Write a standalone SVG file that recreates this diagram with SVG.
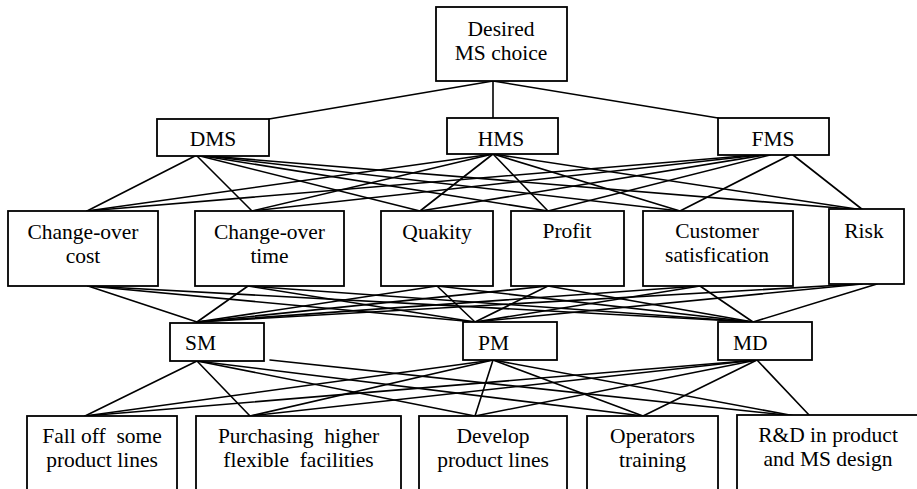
<svg xmlns="http://www.w3.org/2000/svg" width="917" height="489" viewBox="0 0 917 489">
  <style>
    .box { fill: #ffffff; stroke: #000000; stroke-width: 1.8; }
    .edges line { stroke: #000000; stroke-width: 1.6; stroke-linecap: round; }
    .labels text { font-size: 21.5px; fill: #000000; text-anchor: middle; white-space: pre; }
    .labels text.left { text-anchor: start; }
  </style>
  <rect x="0" y="0" width="917" height="489" fill="#ffffff"/>

  <g id="connectors" class="edges">
    <!-- goal to alternatives -->
    <line x1="493" y1="81" x2="269" y2="119"/>
    <line x1="493" y1="81" x2="493" y2="118"/>
    <line x1="493" y1="81" x2="718" y2="118"/>

    <!-- DMS to criteria -->
    <line x1="195" y1="156" x2="87" y2="211"/>
    <line x1="197" y1="156" x2="252" y2="211"/>
    <line x1="200" y1="156" x2="420" y2="211"/>
    <line x1="203" y1="156" x2="548" y2="211"/>
    <line x1="206" y1="156" x2="680" y2="211"/>
    <line x1="209" y1="156" x2="863" y2="210"/>
    <!-- HMS to criteria -->
    <line x1="493" y1="154" x2="87" y2="211"/>
    <line x1="493" y1="154" x2="252" y2="211"/>
    <line x1="493" y1="154" x2="420" y2="211"/>
    <line x1="493" y1="154" x2="548" y2="211"/>
    <line x1="493" y1="154" x2="680" y2="211"/>
    <line x1="493" y1="154" x2="863" y2="210"/>
    <!-- FMS to criteria -->
    <line x1="755" y1="155" x2="87" y2="211"/>
    <line x1="760" y1="155" x2="252" y2="211"/>
    <line x1="765" y1="155" x2="420" y2="211"/>
    <line x1="770" y1="155" x2="548" y2="211"/>
    <line x1="790" y1="155" x2="680" y2="211"/>
    <line x1="793" y1="155" x2="863" y2="210"/>

    <!-- criteria to SM / PM / MD -->
    <line x1="88" y1="286" x2="197" y2="322"/>
    <line x1="88" y1="286" x2="475" y2="322"/>
    <line x1="88" y1="286" x2="753" y2="322"/>
    <line x1="248" y1="286" x2="197" y2="322"/>
    <line x1="248" y1="286" x2="475" y2="322"/>
    <line x1="248" y1="286" x2="753" y2="322"/>
    <line x1="437" y1="286" x2="197" y2="322"/>
    <line x1="437" y1="286" x2="475" y2="322"/>
    <line x1="437" y1="286" x2="753" y2="322"/>
    <line x1="548" y1="286" x2="197" y2="322"/>
    <line x1="548" y1="286" x2="475" y2="322"/>
    <line x1="548" y1="286" x2="753" y2="322"/>
    <line x1="700" y1="286" x2="197" y2="322"/>
    <line x1="700" y1="286" x2="475" y2="322"/>
    <line x1="700" y1="286" x2="753" y2="322"/>
    <line x1="860" y1="284" x2="197" y2="322"/>
    <line x1="862" y1="284" x2="475" y2="322"/>
    <line x1="877" y1="284" x2="753" y2="322"/>

    <!-- SM / PM / MD to actions -->
    <line x1="197" y1="361" x2="85" y2="416"/>
    <line x1="197" y1="361" x2="250" y2="416"/>
    <line x1="197" y1="361" x2="475" y2="416"/>
    <line x1="197" y1="361" x2="643" y2="416"/>
    <line x1="270" y1="360" x2="795" y2="416"/>
    <line x1="493" y1="360" x2="85" y2="416"/>
    <line x1="493" y1="360" x2="250" y2="416"/>
    <line x1="493" y1="360" x2="475" y2="416"/>
    <line x1="493" y1="360" x2="643" y2="416"/>
    <line x1="493" y1="360" x2="795" y2="416"/>
    <line x1="757" y1="360" x2="85" y2="416"/>
    <line x1="757" y1="360" x2="250" y2="416"/>
    <line x1="757" y1="360" x2="475" y2="416"/>
    <line x1="757" y1="360" x2="643" y2="416"/>
    <line x1="757" y1="360" x2="810" y2="416"/>
  </g>

  <g class="labels" font-family="'Liberation Serif', 'DejaVu Serif', 'Times New Roman', serif">
  <!-- goal -->
  <g id="goal">
    <rect class="box" x="436" y="7" width="131" height="74"/>
    <text x="501" y="36">Desired</text>
    <text x="501" y="60">MS choice</text>
  </g>

  <!-- alternatives -->
  <g id="dms">
    <rect class="box" x="157" y="119" width="112" height="37"/>
    <text x="213" y="146">DMS</text>
  </g>
  <g id="hms">
    <rect class="box" x="447" y="118" width="111" height="36"/>
    <text x="501" y="146">HMS</text>
  </g>
  <g id="fms">
    <rect class="box" x="718" y="118" width="111" height="37"/>
    <text x="773" y="146">FMS</text>
  </g>

  <!-- criteria -->
  <g id="changeover-cost">
    <rect class="box" x="8" y="211" width="150" height="75"/>
    <text x="83" y="239">Change-over</text>
    <text x="83" y="263">cost</text>
  </g>
  <g id="changeover-time">
    <rect class="box" x="195" y="211" width="149" height="75"/>
    <text x="269.5" y="239">Change-over</text>
    <text x="269.5" y="263">time</text>
  </g>
  <g id="quality">
    <rect class="box" x="381" y="211" width="112" height="75"/>
    <text x="437" y="239">Quakity</text>
  </g>
  <g id="profit">
    <rect class="box" x="511" y="211" width="113" height="75"/>
    <text x="567" y="238">Profit</text>
  </g>
  <g id="customer-satisfaction">
    <rect class="box" x="643" y="211" width="150" height="75"/>
    <text x="717" y="238">Customer</text>
    <text x="717" y="262">satisfication</text>
  </g>
  <g id="risk">
    <rect class="box" x="829" y="209" width="75" height="75"/>
    <text x="864" y="238">Risk</text>
  </g>

  <!-- sub-criteria -->
  <g id="sm">
    <rect class="box" x="170" y="323" width="94" height="38"/>
    <text class="left" x="185" y="350">SM</text>
  </g>
  <g id="pm">
    <rect class="box" x="463" y="322" width="94" height="38"/>
    <text class="left" x="478" y="350">PM</text>
  </g>
  <g id="md">
    <rect class="box" x="718" y="322" width="94" height="38"/>
    <text class="left" x="733" y="350">MD</text>
  </g>

  <!-- actions -->
  <g id="fall-off">
    <rect class="box" x="27" y="416" width="150" height="90"/>
    <text x="102" y="443">Fall off  some</text>
    <text x="102" y="467">product lines</text>
  </g>
  <g id="purchasing">
    <rect class="box" x="196" y="416" width="205" height="90"/>
    <text x="298.5" y="443">Purchasing  higher</text>
    <text x="298.5" y="467">flexible  facilities</text>
  </g>
  <g id="develop">
    <rect class="box" x="419" y="416" width="148" height="90"/>
    <text x="493" y="443">Develop</text>
    <text x="493" y="467">product lines</text>
  </g>
  <g id="operators">
    <rect class="box" x="587" y="416" width="131" height="90"/>
    <text x="652.5" y="443">Operators</text>
    <text x="652.5" y="467">training</text>
  </g>
  <g id="rnd">
    <rect class="box" x="737" y="415" width="190" height="90"/>
    <text x="828" y="442">R&amp;D in product</text>
    <text x="828" y="466">and MS design</text>
  </g>
  </g>
</svg>
